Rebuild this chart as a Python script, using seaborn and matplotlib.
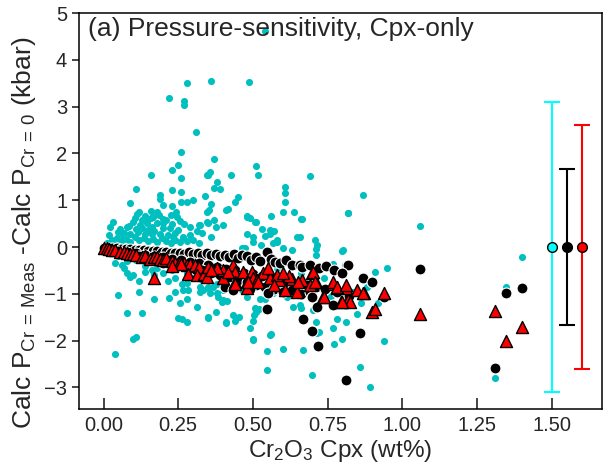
import pandas as pd
import matplotlib
matplotlib.use("Agg")
import matplotlib.pyplot as plt
import seaborn as sns

# ---- data ----
cyan_points = [
    (0.540, 4.61), (0.358, 3.56), (0.278, 3.51), (0.488, 3.52), (0.218, 3.19), (0.270, 3.13),
    (0.270, 3.04), (0.308, 2.45), (0.259, 2.03), (0.248, 1.76), (0.369, 1.89), (0.158, 1.55),
    (0.229, 1.64), (0.259, 1.48), (0.357, 1.61), (0.347, 1.54), (0.427, 1.55), (0.510, 1.73),
    (0.518, 1.53), (0.380, 1.39), (0.369, 1.27), (0.390, 1.24), (0.109, 1.25), (0.230, 1.21),
    (0.259, 1.17), (0.190, 1.11), (0.190, 1.02), (0.338, 1.09), (0.449, 1.06), (0.439, 0.96),
    (0.607, 1.28), (0.607, 1.15), (0.607, 0.97), (0.690, 1.52), (0.869, 1.11), (0.819, 0.72),
    (0.663, 0.59), (1.059, 0.44),
    (0.358, 0.91), (0.352, 0.79), (0.347, 0.75), (0.416, 0.81), (0.409, 0.80), (0.601, 0.74),
    (0.638, 0.74), (0.559, 0.66), (0.480, 0.66), (0.490, 0.63), (0.509, 0.53), (0.529, 0.38),
    (0.323, 0.47), (0.351, 0.51), (0.370, 0.58), (0.377, 0.42), (0.399, 0.47), (0.480, 0.29),
    (0.499, 0.22), (0.557, 0.29), (0.570, 0.34), (0.649, 0.21), (0.360, 0.21), (0.708, 0.15),
    (0.090, 0.94), (0.259, 0.96), (0.280, 0.97), (0.300, 1.00), (0.349, 1.55), (0.198, 0.89),
    (0.230, 0.88), (0.241, 0.75), (0.245, 0.64), (0.120, 0.76), (0.113, 0.70), (0.159, 0.78),
    (0.178, 0.76), (0.140, 0.66), (0.150, 0.59), (0.167, 0.65), (0.031, 0.54), (0.022, 0.43),
    (0.199, 0.61), (0.200, 0.51), (0.270, 0.49), (0.248, 0.36), (0.312, 0.34), (0.320, 0.47),
    (0.345, 0.54),
    (0.050, 0.33), (0.078, 0.43), (0.100, 0.54), (0.122, 0.47), (0.144, 0.51), (0.161, 0.43),
    (0.178, 0.51), (0.200, 0.40), (0.222, 0.40), (0.066, 0.26), (0.089, 0.29), (0.116, 0.33),
    (0.139, 0.29), (0.161, 0.29), (0.189, 0.29), (0.217, 0.26), (0.233, 0.22), (0.267, 0.22),
    (0.289, 0.26),
    (0.030, 0.15), (0.045, 0.20), (0.060, 0.12), (0.075, 0.18), (0.090, 0.10), (0.105, 0.22),
    (0.120, 0.15), (0.135, 0.20), (0.150, 0.12), (0.165, 0.18), (0.180, 0.10), (0.195, 0.20),
    (0.210, 0.14), (0.225, 0.08), (0.240, 0.15), (0.255, 0.10), (0.280, 0.12), (0.300, 0.16),
    (0.320, 0.08), (0.010, 0.08), (0.020, 0.25), (0.055, 0.38), (0.085, 0.45), (0.130, 0.40),
    (0.170, 0.35), (0.210, 0.58), (0.230, 0.50), (0.185, 0.68), (0.160, 0.62), (0.130, 0.58),
    (0.105, 0.63), (0.225, 0.68), (0.255, 0.56), (0.290, 0.42), (0.330, 0.30), (0.040, 0.05),
    (0.070, 0.30), (0.110, 0.38), (0.150, 0.36), (0.240, 0.30),
    (0.501, 0.11), (0.568, 0.09), (0.579, 0.11), (0.526, 0.04), (0.601, -0.03), (0.473, -0.03),
    (0.462, -0.03), (0.630, -0.06), (0.713, 0.04), (0.710, -0.04), (0.800, -0.06), (0.799, -0.08),
    (0.769, -0.36), (0.808, -0.39), (0.710, -0.16), (0.657, 0.21), (0.479, 0.65), (0.507, 0.54),
    (0.557, 0.36), (0.540, 0.24), (0.579, 0.16), (0.817, 0.72), (0.660, 0.60),
    (0.038, -0.35), (0.061, -0.39), (0.078, -0.56), (0.089, -0.64), (0.100, -0.60), (0.120, -0.72),
    (0.139, -0.53), (0.161, -0.49), (0.217, -0.72), (0.239, -0.67), (0.262, -0.78), (0.279, -0.76),
    (0.267, -0.92), (0.284, -0.92), (0.323, -0.85), (0.334, -0.92), (0.350, -0.88), (0.367, -0.85),
    (0.379, -0.99), (0.400, -1.13), (0.412, -1.15),
    (0.050, -1.03), (0.120, -0.97), (0.169, -1.10), (0.218, -1.08), (0.240, -0.97), (0.279, -1.10),
    (0.250, -1.51), (0.262, -1.53), (0.278, -1.60), (0.349, -1.51), (0.376, -1.38), (0.409, -1.63),
    (0.080, -1.40), (0.128, -1.40), (0.100, -1.97), (0.109, -1.92), (0.038, -2.28),
    (0.410, -1.60), (0.434, -1.45), (0.452, -1.49), (0.351, -1.49), (0.323, -0.96), (0.356, -0.99),
    (0.384, -1.06), (0.256, -1.20), (0.312, -1.28), (0.395, -1.17),
    (0.440, -1.58), (0.499, -1.58), (0.510, -1.38), (0.521, -1.33), (0.499, -1.97), (0.557, -1.88),
    (0.548, -2.22), (0.548, -2.62), (0.599, -2.17), (0.668, -2.19), (0.660, -1.31), (0.700, -1.35),
    (0.710, -1.60), (0.715, -1.83), (0.769, -1.74), (0.780, -1.54), (0.810, -1.60), (0.799, -1.97),
    (0.771, -2.08), (0.847, -1.42), (0.858, -2.57), (0.698, -2.74), (0.891, -2.99), (0.540, -1.10),
    (0.939, -2.00), (0.503, -1.45), (0.489, -1.73), (0.507, -1.31), (0.501, -1.99), (0.559, -1.86),
    (0.351, -0.85), (0.379, -0.78), (0.400, -0.92), (0.440, -0.81), (0.462, -0.92), (0.479, -1.06),
    (0.523, -1.10), (0.568, -0.99), (0.613, -1.06), (0.635, -1.28), (0.657, -1.24), (0.908, -0.54),
    (0.738, -0.67), (0.721, -1.82),
    (1.399, -0.22), (1.348, -0.85), (1.309, -2.80),
    (0.020, -0.10), (0.050, -0.20), (0.080, -0.30), (0.110, -0.28), (0.140, -0.40), (0.180, -0.45),
    (0.200, -0.55), (0.230, -0.50), (0.280, -0.55), (0.310, -0.62), (0.330, -0.70), (0.150, -0.30),
    (0.070, -0.45), (0.170, -0.60), (0.220, -0.35),
    (0.580, -0.45), (0.620, -0.35), (0.660, -0.55), (0.600, -0.70), (0.680, -0.85), (0.740, -0.90),
    (0.760, -1.05), (0.830, -0.95), (0.860, -1.20), (0.880, -0.85), (0.920, -1.20), (0.950, -0.45),
]

black_points = [
    (0.000, -0.01), (0.015, -0.02), (0.030, -0.03), (0.045, -0.03), (0.060, -0.04), (0.075, -0.05),
    (0.090, -0.05), (0.105, -0.06), (0.120, -0.07), (0.135, -0.07), (0.150, -0.08), (0.165, -0.09),
    (0.180, -0.09), (0.195, -0.10), (0.210, -0.11), (0.225, -0.12), (0.240, -0.12), (0.255, -0.13),
    (0.270, -0.14), (0.285, -0.10), (0.300, -0.15), (0.315, -0.12), (0.330, -0.16), (0.345, -0.13),
    (0.360, -0.18), (0.375, -0.14), (0.390, -0.20), (0.405, -0.16), (0.420, -0.22), (0.435, -0.15),
    (0.450, -0.24), (0.465, -0.17), (0.480, -0.20), (0.495, -0.28), (0.510, -0.22), (0.525, -0.30),
    (0.546, -0.10), (0.560, -0.25), (0.575, -0.32), (0.590, -0.35), (0.610, -0.28), (0.630, -0.38),
    (0.657, -0.39), (0.663, -0.42), (0.690, -0.39), (0.720, -0.45), (0.745, -0.40), (0.770, -0.50),
    (0.050, -0.08), (0.080, -0.10), (0.110, -0.13), (0.140, -0.16), (0.170, -0.19), (0.200, -0.22),
    (0.230, -0.25), (0.260, -0.28), (0.290, -0.31), (0.320, -0.35), (0.350, -0.38), (0.380, -0.42),
    (0.410, -0.46), (0.440, -0.50), (0.470, -0.55), (0.500, -0.58), (0.530, -0.62), (0.560, -0.66),
    (0.590, -0.70), (0.620, -0.74), (0.650, -0.78), (0.680, -0.82), (0.710, -0.86), (0.740, -0.90),
    (0.300, -0.45), (0.330, -0.50), (0.360, -0.55), (0.390, -0.60), (0.420, -0.65), (0.406, -0.85),
    (0.434, -0.92), (0.450, -0.70), (0.480, -0.75), (0.510, -0.80), (0.490, -0.90), (0.540, -0.85),
    (0.570, -0.90), (0.600, -0.95), (0.550, -0.98), (0.630, -0.92), (0.660, -1.00), (0.690, -0.95),
    (0.698, -1.06), (0.713, -1.28), (0.769, -1.24), (0.780, -0.95), (0.820, -1.05),
    (0.200, -0.35), (0.250, -0.40), (0.120, -0.20),
    (0.548, -1.33), (0.668, -1.53), (0.698, -1.79), (0.718, -2.12), (0.858, -1.83), (0.810, -2.84),
    (0.819, -0.39), (0.797, -0.56), (0.869, -0.67), (0.899, -0.74), (0.938, -1.06), (1.059, -0.46),
    (1.348, -0.98), (1.399, -0.87), (1.309, -2.58),
]

red_points = [
    (0.000, -0.02), (0.010, -0.03), (0.020, -0.05), (0.030, -0.06), (0.040, -0.07), (0.055, -0.10),
    (0.070, -0.10), (0.080, -0.12), (0.090, -0.15), (0.100, -0.14), (0.110, -0.16), (0.128, -0.22),
    (0.140, -0.20), (0.156, -0.26), (0.170, -0.22), (0.178, -0.22), (0.190, -0.25), (0.200, -0.28),
    (0.210, -0.24), (0.228, -0.30), (0.240, -0.34), (0.256, -0.31), (0.270, -0.35), (0.278, -0.39),
    (0.290, -0.36), (0.306, -0.39), (0.320, -0.42), (0.170, -0.66),
    (0.284, -0.58), (0.312, -0.60), (0.336, -0.58), (0.362, -0.46), (0.400, -0.51), (0.434, -0.39),
    (0.440, -0.53), (0.468, -0.53), (0.496, -0.53), (0.501, -0.67), (0.479, -0.74), (0.512, -0.71),
    (0.440, -0.74), (0.400, -0.67), (0.345, -0.64),
    (0.399, -0.49), (0.417, -0.53), (0.534, -0.56), (0.557, -0.67), (0.588, -0.71), (0.607, -0.92),
    (0.629, -0.69), (0.646, -0.96), (0.663, -0.71), (0.696, -0.56), (0.710, -0.74), (0.691, -0.81),
    (0.735, -1.06), (0.769, -0.78), (0.780, -0.88), (0.810, -0.88), (0.793, -1.17), (0.819, -1.13),
    (0.849, -0.92), (0.871, -0.98), (0.479, -0.88), (0.440, -0.78), (0.484, -0.74), (0.518, -0.74),
    (0.702, -0.53), (0.769, -0.74), (0.780, -0.85), (0.824, -1.17), (0.938, -0.99), (0.899, -1.38),
    (0.908, -1.33), (0.869, -0.99), (0.810, -0.81), (0.737, -1.06), (0.708, -0.74), (0.797, -1.17),
    (1.059, -1.42), (1.309, -1.36), (1.348, -2.00), (1.399, -1.70),
    (0.350, -0.42), (0.380, -0.45), (0.550, -0.45), (0.580, -0.60), (0.620, -0.62), (0.650, -0.75),
    (0.360, -0.50), (0.260, -0.36), (0.230, -0.40), (0.570, -0.80), (0.600, -0.55),
]

# summary error bars on the right
err_x = [1.50, 1.55, 1.60]
err_y = [0.0, 0.0, 0.0]
err_size = [3.1, 1.66, 2.6]
err_line = ['#00ffff', 'black', 'red']
err_face = ['#00ffff', 'black', 'red']

x_ticks = [0.0, 0.25, 0.5, 0.75, 1.0, 1.25, 1.5]
y_ticks = [-3, -2, -1, 0, 1, 2, 3, 4, 5]

cyan = pd.DataFrame(cyan_points, columns=['cr', 'dp'])
black = pd.DataFrame(black_points, columns=['cr', 'dp'])
red = pd.DataFrame(red_points, columns=['cr', 'dp'])

# ---- plot ----
sns.set_style('ticks')
plt.rcParams['font.family'] = ['Liberation Sans', 'DejaVu Sans']
plt.rcParams['mathtext.fontset'] = 'custom'
plt.rcParams['mathtext.rm'] = 'Liberation Sans'
plt.rcParams['mathtext.default'] = 'regular'

fig = plt.figure(figsize=(6.05, 4.69), dpi=100)
ax = fig.add_axes([0.1306, 0.128, 0.864, 0.844])

sns.scatterplot(data=cyan, x='cr', y='dp', color='#00bfbf', s=26, linewidth=0,
                ax=ax, zorder=2, legend=False)
sns.scatterplot(data=black, x='cr', y='dp', color='black', s=62, edgecolor='white',
                linewidth=0.8, ax=ax, zorder=3, legend=False)
sns.scatterplot(data=red, x='cr', y='dp', color='red', marker='^', s=75, edgecolor='black',
                linewidth=1.0, ax=ax, zorder=4, legend=False)

for xi, yi, ei, lc, fc in zip(err_x, err_y, err_size, err_line, err_face):
    ax.errorbar(xi, yi, yerr=ei, fmt='o', color=lc, mfc=fc, mec='black', ms=7,
                capsize=6, elinewidth=1.5, capthick=1.5, zorder=5)

ax.set_xlim(-0.082, 1.667)
ax.set_ylim(-3.46, 5)
ax.set_xticks(x_ticks)
ax.set_xticklabels([f'{v:.2f}' for v in x_ticks])
ax.set_yticks(y_ticks)
ax.tick_params(axis='x', direction='in', length=8, width=1.2, labelsize=14.5, pad=5)
ax.tick_params(axis='y', direction='out', length=5, width=1.2, labelsize=14.5)
for sp in ax.spines.values():
    sp.set_linewidth(1.1)
    sp.set_color('black')

ax.set_xlabel('Cr$_2$O$_3$ Cpx (wt%)', fontsize=17.5, labelpad=2)
ax.set_ylabel('Calc P$_{Cr\\,=\\,Meas}$ -Calc P$_{Cr\\,=\\,0}$ (kbar)', fontsize=19)
ax.yaxis.set_label_coords(-0.078, 0.445)
ax.text(0.017, 0.99, '(a) Pressure-sensitivity, Cpx-only', transform=ax.transAxes,
        fontsize=19, va='top', ha='left')

fig.savefig('out.png', dpi=100)
